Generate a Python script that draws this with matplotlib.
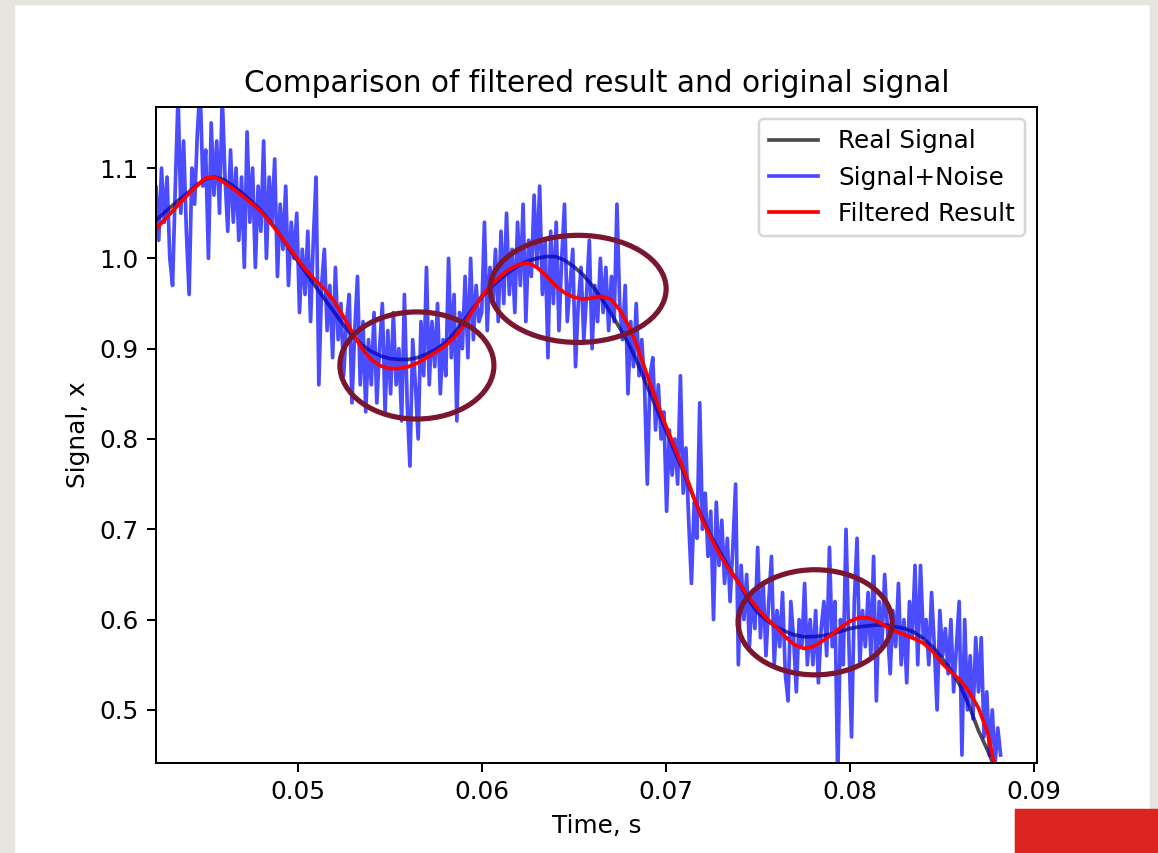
import numpy as np
import matplotlib
matplotlib.use('Agg')
import matplotlib.pyplot as plt
from matplotlib.patches import Ellipse, Rectangle

# sampling grids (start time and step) of the series
t0 = 0.042
dt_noise = 0.00015
dt_smooth = 0.0005

# Signal+Noise, 20 samples (3 ms) per row starting at 0.042 s
noisy = [
    1.05, 0.99, 1.08, 1.02, 1.10, 1.04, 1.09, 1.00, 0.97, 1.08, 1.18, 1.05, 1.13, 1.03, 0.96, 1.10, 1.06, 1.14, 1.19, 1.08,
    1.12, 1.00, 1.15, 1.07, 1.13, 1.05, 1.18, 1.09, 1.03, 1.12, 1.04, 1.10, 1.02, 1.09, 0.99, 1.14, 1.04, 1.10, 0.99, 1.08,
    1.03, 1.13, 1.00, 1.09, 1.04, 1.11, 0.98, 1.06, 1.01, 1.08, 0.97, 1.04, 1.00, 1.05, 0.94, 1.01, 0.96, 1.03, 0.93, 1.02,
    1.09, 0.86, 0.97, 1.01, 0.92, 0.97, 0.89, 0.99, 0.91, 0.95, 0.87, 0.93, 0.96, 0.84, 0.92, 0.98, 0.86, 0.93, 0.83, 0.91,
    0.86, 0.94, 0.84, 0.90, 0.95, 0.83, 0.92, 0.85, 0.94, 0.86, 0.90, 0.82, 0.96, 0.84, 0.77, 0.91, 0.86, 0.80, 0.93, 0.87,
    0.99, 0.86, 0.93, 0.88, 0.95, 0.85, 0.91, 0.87, 1.00, 0.89, 0.96, 0.82, 0.94, 0.90, 0.98, 0.89, 1.00, 0.91, 0.97, 0.93,
    0.94, 1.04, 0.92, 0.99, 0.95, 1.01, 0.93, 1.03, 0.95, 1.05, 0.96, 1.01, 0.94, 1.04, 0.97, 1.06, 0.93, 1.02, 0.98, 1.07,
    0.99, 1.08, 0.96, 1.02, 0.89, 1.03, 0.95, 1.04, 0.92, 1.00, 1.06, 0.93, 0.97, 1.01, 0.88, 0.95, 0.99, 0.91, 0.96, 1.02,
    0.90, 0.97, 0.93, 1.00, 0.94, 0.99, 0.92, 0.98, 0.93, 1.06, 0.95, 0.91, 0.97, 0.85, 0.93, 0.88, 0.95, 0.87, 0.91, 0.86,
    0.75, 0.87, 0.89, 0.81, 0.86, 0.80, 0.83, 0.72, 0.81, 0.76, 0.80, 0.75, 0.87, 0.74, 0.79, 0.71, 0.64, 0.73, 0.69, 0.84,
    0.70, 0.74, 0.67, 0.72, 0.60, 0.73, 0.66, 0.71, 0.64, 0.69, 0.62, 0.68, 0.75, 0.55, 0.66, 0.60, 0.65, 0.57, 0.63, 0.59,
    0.68, 0.58, 0.64, 0.56, 0.62, 0.67, 0.55, 0.61, 0.57, 0.63, 0.54, 0.51, 0.62, 0.58, 0.52, 0.60, 0.57, 0.64, 0.55, 0.60,
    0.55, 0.61, 0.53, 0.59, 0.62, 0.56, 0.68, 0.57, 0.62, 0.42, 0.60, 0.55, 0.70, 0.58, 0.47, 0.62, 0.69, 0.55, 0.61, 0.57,
    0.63, 0.56, 0.67, 0.51, 0.62, 0.57, 0.65, 0.59, 0.54, 0.61, 0.57, 0.64, 0.55, 0.60, 0.53, 0.62, 0.58, 0.66, 0.55, 0.66,
    0.58, 0.60, 0.55, 0.63, 0.57, 0.50, 0.61, 0.56, 0.59, 0.54, 0.60, 0.52, 0.57, 0.62, 0.45, 0.60, 0.50, 0.56, 0.49, 0.58,
    0.52, 0.58, 0.47, 0.52, 0.45, 0.50, 0.44, 0.48, 0.45,
]

# Real Signal, every 0.5 ms from 0.042 s
real = [1.036, 1.046, 1.055, 1.064, 1.072, 1.081, 1.088, 1.090, 1.087, 1.080,
        1.072, 1.063, 1.053, 1.041, 1.027, 1.012, 0.997, 0.983, 0.968, 0.954,
        0.940, 0.926, 0.914, 0.904, 0.897, 0.892, 0.889, 0.888, 0.888, 0.890,
        0.894, 0.899, 0.906, 0.917, 0.930, 0.944, 0.957, 0.968, 0.977, 0.985,
        0.992, 0.997, 1.000, 1.002, 1.002, 0.998, 0.991, 0.982, 0.970, 0.956,
        0.940, 0.923, 0.905, 0.883, 0.858, 0.834, 0.810, 0.786, 0.762, 0.736,
        0.712, 0.691, 0.673, 0.655, 0.640, 0.622, 0.608, 0.599, 0.592, 0.587,
        0.583, 0.581, 0.581, 0.582, 0.584, 0.587, 0.590, 0.592, 0.593, 0.594,
        0.594, 0.592, 0.590, 0.586, 0.579, 0.570, 0.558, 0.544, 0.527, 0.504,
        0.477, 0.455, 0.430]

# Filtered Result, every 0.5 ms from 0.042 s
filtered = [1.025, 1.037, 1.048, 1.059, 1.070, 1.080, 1.089, 1.090, 1.084, 1.077,
            1.069, 1.061, 1.052, 1.040, 1.027, 1.013, 0.999, 0.986, 0.975, 0.965,
            0.952, 0.935, 0.917, 0.900, 0.888, 0.881, 0.878, 0.878, 0.880, 0.884,
            0.890, 0.896, 0.903, 0.912, 0.925, 0.942, 0.958, 0.970, 0.980, 0.988,
            0.993, 0.995, 0.990, 0.981, 0.970, 0.962, 0.957, 0.955, 0.956, 0.958,
            0.955, 0.943, 0.925, 0.900, 0.870, 0.842, 0.815, 0.790, 0.765, 0.737,
            0.710, 0.689, 0.670, 0.654, 0.640, 0.625, 0.612, 0.601, 0.592, 0.581,
            0.572, 0.568, 0.570, 0.576, 0.583, 0.591, 0.598, 0.602, 0.602, 0.598,
            0.592, 0.587, 0.583, 0.579, 0.574, 0.565, 0.552, 0.542, 0.533, 0.520,
            0.502, 0.475, 0.425]

t_noise = t0 + dt_noise * np.arange(len(noisy))
t_smooth = t0 + dt_smooth * np.arange(len(real))

fig = plt.figure(figsize=(1158 / 178, 853 / 178), dpi=178)

# slide background: grey frame and red corner block
frame = '#e6e4df'
fig.add_artist(Rectangle((0, 0), 14 / 1158, 1, transform=fig.transFigure, color=frame, zorder=-5))
fig.add_artist(Rectangle((0, 1 - 4 / 853), 1, 4 / 853, transform=fig.transFigure, color=frame, zorder=-5))
fig.add_artist(Rectangle((1151 / 1158, 0), 7 / 1158, 1, transform=fig.transFigure, color=frame, zorder=-5))
fig.add_artist(Rectangle((1016 / 1158, 0), 142 / 1158, 43 / 853, transform=fig.transFigure,
                         color='#dc241f', zorder=5))

ax = fig.add_axes([156 / 1158, 1 - 763 / 853, 881 / 1158, 656 / 853])
ax.plot(t_smooth, real, color='k', alpha=0.7, label='Real Signal')
ax.plot(t_noise, noisy, color='b', alpha=0.7, label='Signal+Noise')
ax.plot(t_smooth, filtered, color='r', label='Filtered Result')

# highlighted regions
ring = '#7b1631'
for c, w, h in [((0.05648, 0.8814), 0.00837, 0.1186),
                ((0.06524, 0.9662), 0.00957, 0.1186),
                ((0.07812, 0.5970), 0.00837, 0.1164)]:
    ax.add_patch(Ellipse(c, w, h, fill=False, ec=ring, lw=2.1, zorder=5))

ax.set_xlim(0.0423, 0.09018)
ax.set_ylim(0.4412, 1.1676)
ax.set_xticks([0.05, 0.06, 0.07, 0.08, 0.09])
ax.set_yticks([0.5, 0.6, 0.7, 0.8, 0.9, 1.0, 1.1])
ax.set_title('Comparison of filtered result and original signal')
ax.set_xlabel('Time, s')
ax.set_ylabel('Signal, x')
ax.legend(loc='upper right')

fig.savefig('out.png', dpi=178)
